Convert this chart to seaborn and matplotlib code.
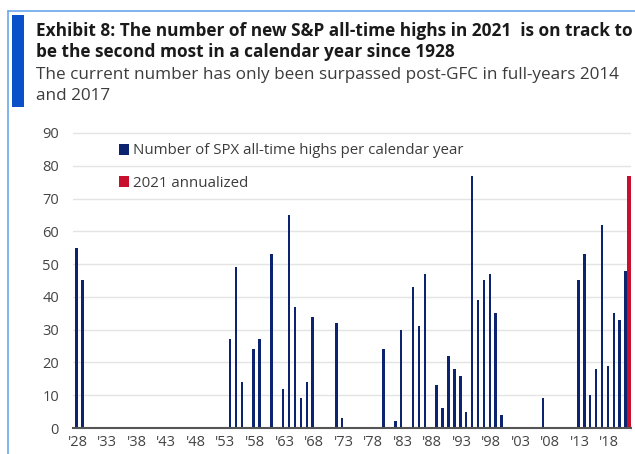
import matplotlib
matplotlib.use("Agg")
import matplotlib.pyplot as plt
import matplotlib.patches as mpatches
import matplotlib.lines as mlines
import seaborn as sns
import pandas as pd

years = list(range(1928, 2022))
ath_counts = [
    55, 45,                                  # 1928-1929
    0, 0, 0, 0, 0, 0, 0, 0, 0, 0,            # 1930-1939
    0, 0, 0, 0, 0, 0, 0, 0, 0, 0,            # 1940-1949
    0, 0, 0, 0, 27, 49, 14, 0, 24, 27,       # 1950-1959
    0, 53, 0, 12, 65, 37, 9, 14, 34, 0,      # 1960-1969
    0, 0, 32, 3, 0, 0, 0, 0, 0, 0,           # 1970-1979
    24, 0, 2, 30, 0, 43, 31, 47, 0, 13,      # 1980-1989
    6, 22, 18, 16, 5, 77, 39, 45, 47, 35,    # 1990-1999
    4, 0, 0, 0, 0, 0, 0, 9, 0, 0,            # 2000-2009
    0, 0, 0, 45, 53, 10, 18, 62, 19, 35,     # 2010-2019
    33, 48,                                  # 2020-2021
]
annualized_year = 2021
annualized_value = 77
series_names = ["Number of SPX all-time highs per calendar year", "2021 annualized"]
colors = ["#0c2470", "#c8102e"]
y_ticks = [0, 10, 20, 30, 40, 50, 60, 70, 80, 90]
tick_every = 5

annualized = [annualized_value if y == annualized_year else 0 for y in years]
df = pd.DataFrame({
    "year": years * 2,
    "value": ath_counts + annualized,
    "series": [series_names[0]] * len(years) + [series_names[1]] * len(years),
})

sns.set_theme(style="white")
plt.rcParams["font.family"] = ["Open Sans", "DejaVu Sans"]

W, H = 635, 454
fig = plt.figure(figsize=(W / 100, H / 100), dpi=100)

# decorative frame and accent bar
fig.add_artist(mlines.Line2D([8 / W, 8 / W], [0, 1 - 11 / H], color="#6aa8ea", lw=1.2))
fig.add_artist(mlines.Line2D([8 / W, 1], [1 - 11 / H, 1 - 11 / H], color="#6aa8ea", lw=1.2))
fig.add_artist(mpatches.Rectangle((12 / W, 1 - 107 / H), 12 / W, 92 / H,
                                  transform=fig.transFigure, color="#0a50c8", lw=0))

fig.text(36 / W, 1 - 31 / H, "Exhibit 8: The number of new S&P all-time highs in 2021  is on track to",
         fontsize=12.4, fontweight="bold", color="#1a1a1a", va="center", ha="left")
fig.text(36 / W, 1 - 52 / H, "be the second most in a calendar year since 1928",
         fontsize=12.4, fontweight="bold", color="#1a1a1a", va="center", ha="left")
fig.text(36 / W, 1 - 75 / H, "The current number has only been surpassed post-GFC in full-years 2014",
         fontsize=12.3, color="#3c3c3c", va="center", ha="left")
fig.text(36 / W, 1 - 96 / H, "and 2017",
         fontsize=12.3, color="#3c3c3c", va="center", ha="left")

ax = fig.add_axes([73 / W, 26 / H, 558 / W, 296 / H])
sns.barplot(data=df, x="year", y="value", hue="series", palette=colors,
            dodge=True, width=0.84, ax=ax, saturation=1, linewidth=0)

# the annualized bar is drawn a little wider, as in the source
for p in ax.patches:
    if p.get_facecolor()[0] > 0.5 and p.get_height() > 0:
        p.set_width(p.get_width() * 1.7)

ax.set_ylim(0, 90.3)
ax.set_xlim(-0.8, len(years) - 0.3)
ax.set_yticks(y_ticks)
ax.set_yticklabels([str(v) for v in y_ticks], fontsize=10.5, color="#444444")
pos = list(range(0, len(years), tick_every))
ax.set_xticks(pos)
ax.set_xticklabels([f"'{years[p] % 100:02d}" for p in pos], fontsize=10.5, color="#444444")
ax.tick_params(axis="both", length=0)
ax.tick_params(axis="x", pad=5)
ax.tick_params(axis="y", pad=10)
ax.set_xlabel("")
ax.set_ylabel("")
ax.grid(axis="y", color="#e4e4e4", lw=1)
ax.set_axisbelow(True)
for s in ["top", "right", "left"]:
    ax.spines[s].set_visible(False)
ax.spines["bottom"].set_color("#555555")
ax.spines["bottom"].set_linewidth(1.5)

handles, labels = ax.get_legend_handles_labels()
ax.get_legend().remove()
fig.legend(handles, labels, loc="upper left", bbox_to_anchor=(105 / W, 1 - 130 / H),
           frameon=False, fontsize=10.8, handlelength=0.7, handleheight=0.7,
           handletextpad=0.25, labelspacing=1.15, labelcolor="#3c3c3c")

fig.savefig("out.png", dpi=100)
